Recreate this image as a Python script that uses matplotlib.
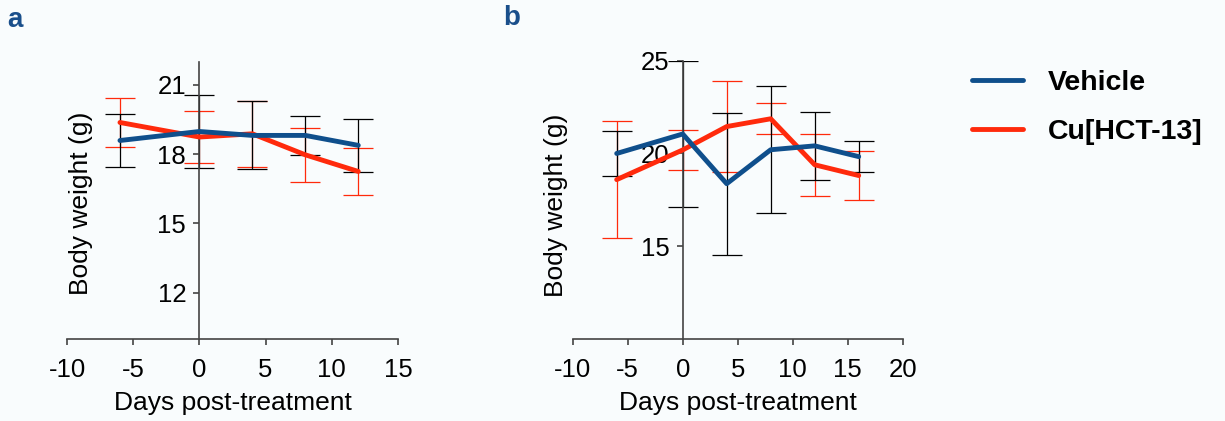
import numpy as np
import matplotlib
matplotlib.use("Agg")
import matplotlib.pyplot as plt

plt.rcParams['font.family'] = ['Liberation Sans', 'DejaVu Sans']
plt.rcParams['axes.unicode_minus'] = False

# panel a
days_a = [-6, 0, 4, 8, 12]
veh_a = [18.59, 18.98, 18.81, 18.81, 18.38]
veh_a_err = [1.14, 1.56, 1.47, 0.83, 1.14]
cu_a = [19.37, 18.74, 18.88, 17.97, 17.25]
cu_a_err = [1.04, 1.14, 1.43, 1.17, 1.03]

# panel b
days_b = [-6, 0, 4, 8, 12, 16]
veh_b = [20.0, 21.05, 18.37, 20.2, 20.41, 19.83]
veh_b_err = [1.21, 3.94, 3.83, 3.43, 1.83, 0.82]
cu_b = [18.59, 20.19, 21.45, 21.87, 19.39, 18.81]
cu_b_err = [3.17, 1.08, 2.43, 0.83, 1.66, 1.30]

labels = ['Vehicle', 'Cu[HCT-13]']
blue = '#0f4f8c'
red = '#ff2a0c'
bg = '#f9fcfd'

fig = plt.figure(figsize=(12.25, 4.21), dpi=100, facecolor=bg)
ax_a = fig.add_axes([67/1225, 1-339/421, 331/1225, 277.3/421])
ax_b = fig.add_axes([572.7/1225, 1-339/421, 330/1225, 278.3/421])


def panel(ax, days, veh, veh_err, cu, cu_err, xlim, ylim, xticks, yticks, lab_x, lab_y):
    ax.set_facecolor(bg)
    ax.errorbar(days, cu, yerr=cu_err, fmt='none', ecolor=red, elinewidth=0.9,
                capsize=10.5, capthick=0.9, zorder=2)
    ax.errorbar(days, veh, yerr=veh_err, fmt='none', ecolor='black', elinewidth=0.9,
                capsize=10.5, capthick=0.9, zorder=2)
    ax.plot(days, cu, color=red, lw=3.5, solid_capstyle='round', zorder=3, label=labels[1])
    ax.plot(days, veh, color=blue, lw=3.5, solid_capstyle='round', zorder=4, label=labels[0])
    ax.set_xlim(*xlim)
    ax.set_ylim(*ylim)
    ax.set_xticks(xticks)
    ax.set_yticks(yticks)
    ax.spines['top'].set_visible(False)
    ax.spines['right'].set_visible(False)
    ax.spines['left'].set_position(('data', 0))
    for s in ('left', 'bottom'):
        ax.spines[s].set_color('#444444')
        ax.spines[s].set_linewidth(1.2)
    ax.tick_params(axis='both', colors='#444444', labelcolor='black', labelsize=18.5,
                   length=4.5, width=1.2, pad=5)
    ax.tick_params(axis='x', pad=9)
    ax.set_xlabel('Days post-treatment', fontsize=19, labelpad=7)
    ax.set_ylabel('Body weight (g)', fontsize=19)
    ax.yaxis.set_label_coords(lab_x, lab_y)


panel(ax_a, days_a, veh_a, veh_a_err, cu_a, cu_a_err, (-10, 15), (10, 22),
      np.arange(-10, 16, 5), [12, 15, 18, 21], 0.080, 0.489)
panel(ax_b, days_b, veh_b, veh_b_err, cu_b, cu_b_err, (-10, 20), (10, 25),
      np.arange(-10, 21, 5), [15, 20, 25], -0.013, 0.48)

fig.text(7/1225, 1-27/421, 'a', fontsize=20, fontweight='bold', color='#1a4f8b')
fig.text(503/1225, 1-25/421, 'b', fontsize=20, fontweight='bold', color='#1a4f8b')

handles, labs = ax_a.get_legend_handles_labels()
order = [1, 0]
fig.legend([handles[i] for i in order], [labs[i] for i in order],
           loc='upper left', bbox_to_anchor=(972/1225, 0.833), frameon=False,
           prop={'size': 20.5, 'weight': 'bold'}, handlelength=1.79,
           handletextpad=0.88, labelspacing=0.78, borderpad=0, borderaxespad=0)

fig.savefig('out.png', dpi=100, facecolor=bg)
